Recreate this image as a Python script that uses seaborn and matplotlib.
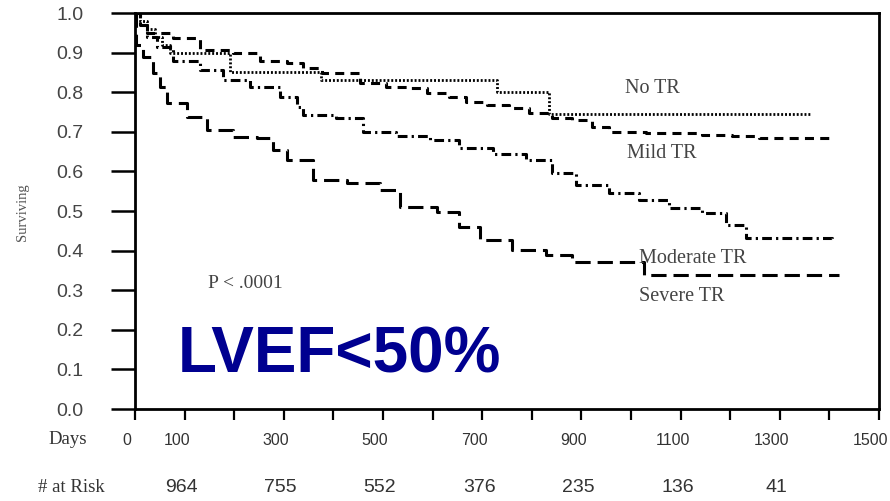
import matplotlib
matplotlib.use("Agg")
import matplotlib.pyplot as plt
import matplotlib.transforms as mtransforms
import seaborn as sns
import pandas as pd

# ---------------- data ----------------
groups = ["No TR", "Mild TR", "Moderate TR", "Severe TR"]

no_tr_days = [0, 10, 25, 40, 55, 70, 191, 376, 729, 835, 1363]
no_tr_surv = [1.0, 0.98, 0.96, 0.94, 0.92, 0.90, 0.85, 0.83, 0.80, 0.745, 0.745]

mild_days = [0, 10, 24, 77, 131, 197, 252, 306, 338, 378, 453, 507, 554, 588, 634,
             668, 709, 755, 795, 841, 882, 922, 956, 1031, 1143, 1204, 1258, 1409]
mild_surv = [1.0, 0.97, 0.95, 0.937, 0.907, 0.899, 0.88, 0.873, 0.861, 0.848, 0.823,
             0.813, 0.81, 0.798, 0.788, 0.775, 0.768, 0.76, 0.747, 0.735, 0.73, 0.712,
             0.70, 0.697, 0.692, 0.689, 0.684, 0.684]

mod_days = [0, 10, 25, 44, 77, 131, 177, 232, 292, 326, 338, 406, 459, 527, 594, 654,
            721, 789, 841, 890, 956, 1017, 1077, 1143, 1192, 1232, 1405]
mod_surv = [1.0, 0.97, 0.94, 0.915, 0.88, 0.856, 0.83, 0.814, 0.788, 0.763, 0.742,
            0.735, 0.70, 0.69, 0.679, 0.659, 0.644, 0.629, 0.596, 0.566, 0.545, 0.528,
            0.507, 0.495, 0.465, 0.432, 0.43]

sev_days = [0, 3, 16, 36, 50, 64, 104, 145, 197, 245, 278, 306, 358, 427, 493, 534,
            608, 654, 695, 761, 829, 882, 1027, 1419]
sev_surv = [1.0, 0.92, 0.889, 0.848, 0.813, 0.773, 0.737, 0.705, 0.687, 0.684, 0.654,
            0.629, 0.578, 0.57, 0.553, 0.51, 0.497, 0.46, 0.427, 0.401, 0.389, 0.371,
            0.338, 0.338]

tick_days = list(range(0, 1600, 100))
labeled_days = [0, 100, 300, 500, 700, 900, 1100, 1300, 1500]
y_ticks = [0.0, 0.1, 0.2, 0.3, 0.4, 0.5, 0.6, 0.7, 0.8, 0.9, 1.0]

risk_days = [100, 300, 500, 700, 900, 1100, 1300]
risk_counts = [964, 755, 552, 376, 235, 136, 41]

# label positions (day, survival) for curve names
label_pos = {"No TR": (988, 0.81), "Mild TR": (992, 0.645),
             "Moderate TR": (1016, 0.381), "Severe TR": (1016, 0.285)}

# ---------------- plotting ----------------
sns.set_style("white")
plt.rcParams["lines.scale_dashes"] = False

fig = plt.figure(figsize=(8.9, 5.01), dpi=100)
W, H = 890, 501
ax = fig.add_axes([135 / W, 1 - 409 / H, (879 - 135) / W, (409 - 13) / H])

series = [
    (no_tr_days, no_tr_surv, (0, (1.4, 1.4)), 2.0),
    (mild_days, mild_surv, (0, (6.5, 4.5)), 2.2),
    (mod_days, mod_surv, (0, (7, 3, 1.6, 3)), 2.2),
    (sev_days, sev_surv, (0, (11, 5)), 2.2),
]
for days, surv, ls, lw in series:
    df = pd.DataFrame({"day": days, "surv": surv})
    sns.lineplot(data=df, x="day", y="surv", ax=ax, color="black",
                 linestyle=ls, linewidth=lw, drawstyle="steps-post",
                 estimator=None, sort=False)

ax.set_xlim(0, 1500)
ax.set_ylim(0, 1.0)
ax.set_xlabel("")
ax.set_ylabel("")

ax.set_yticks(y_ticks)
ax.set_yticklabels([f"{v:.1f}" for v in y_ticks], fontsize=14, color="#444444",
                   fontfamily="Liberation Sans")
ax.tick_params(axis="y", direction="out", length=17, width=1.8, pad=20,
               color="black", left=True)
ax.tick_params(axis="x", direction="out", length=8, width=1.6, pad=9,
               color="black", bottom=True)

ax.set_xticks(tick_days)
ax.set_xticklabels([str(d) if d in labeled_days else "" for d in tick_days],
                   fontsize=11.5, color="#333333", fontfamily="Liberation Sans")
shift = mtransforms.ScaledTranslation(-8 / 100, 0, fig.dpi_scale_trans)
for lab in ax.get_xticklabels():
    lab.set_transform(lab.get_transform() + shift)

for side, sp in ax.spines.items():
    sp.set_visible(True)
    sp.set_color("black")
    sp.set_linewidth(2.0)

# curve labels
for g in groups:
    x, y = label_pos[g]
    ax.text(x, y, g, fontsize=14.5, color="#444444", fontfamily="Liberation Serif",
            ha="left", va="center")

ax.text(147, 0.318, "P < .0001", fontsize=14, color="#444444",
        fontfamily="Liberation Serif", ha="left", va="center")

ax.text(87, 0.093, "LVEF<50%", fontsize=46, color="#000090",
        fontfamily="Liberation Sans", fontweight="bold", ha="left", va="baseline")

# figure-level texts
fig.text(22 / W, 1 - 212 / H, "Surviving", rotation=90, fontsize=10.5,
         color="#555555", fontfamily="Liberation Serif", ha="center", va="center")
fig.text(68 / W, 1 - 439 / H, "Days", fontsize=13.5, color="#333333",
         fontfamily="Liberation Serif", ha="center", va="center")
fig.text(71 / W, 1 - 487 / H, "# at Risk", fontsize=13.5, color="#333333",
         fontfamily="Liberation Serif", ha="center", va="center")

for d, n in zip(risk_days, risk_counts):
    xf = (135 + d * (879 - 135) / 1500 - 3) / W
    fig.text(xf, 1 - 487 / H, str(n), fontsize=14, color="#333333",
             fontfamily="Liberation Sans", ha="center", va="center")

fig.savefig("out.png", dpi=100)
